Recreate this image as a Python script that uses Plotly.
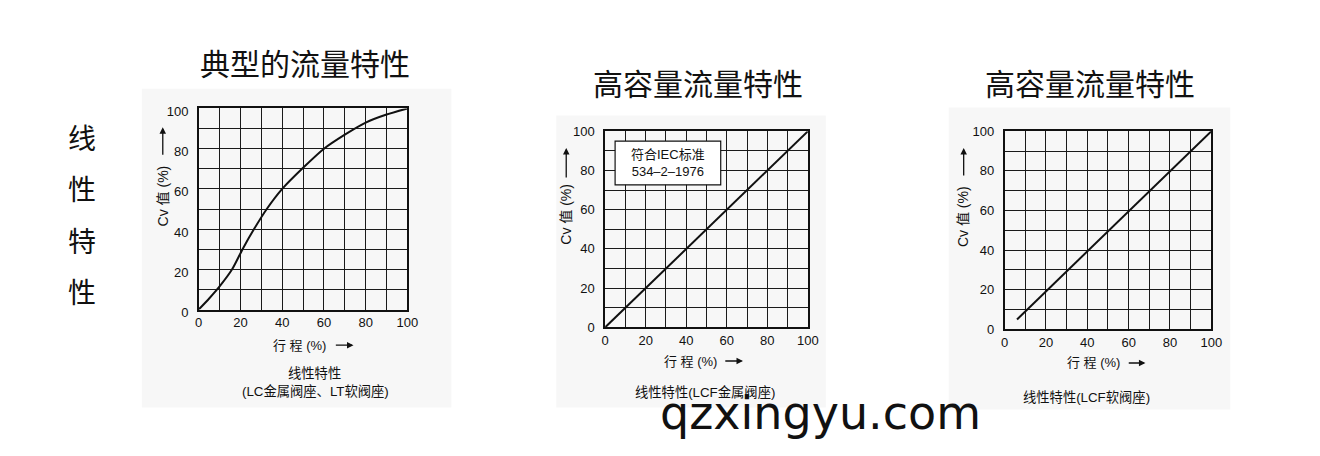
import plotly.graph_objects as go

W, H = 1320, 456
# measured mapping from figure pixels to the photographed picture (picture = k * fig + c)
KX, CX = 0.99, 2.0
KY, CY = 0.97, 5.5

# ---- data ----
travel_typical = [0, 5, 10, 16, 21, 26.5, 32.6, 40, 50, 60, 70, 80, 90, 100]
cv_typical = [0, 5.5, 11.5, 20, 30, 40, 50, 60, 70.5, 80, 87, 93, 97, 100]
travel_lcf_metal = [0, 100]
cv_lcf_metal = [0, 100]
travel_lcf_soft = [6, 100]
cv_lcf_soft = [5, 100]
tick_vals = [0, 10, 20, 30, 40, 50, 60, 70, 80, 90, 100]
tick_text = ["0", "", "20", "", "40", "", "60", "", "80", "", "100"]

titles = ["典型的流量特性", "高容量流量特性", "高容量流量特性"]
side_label = ["线", "性", "特", "性"]
y_title = "Cv 值 (%)"
x_title = "行 程 (%)"
captions = [["线性特性", "(LC金属阀座、LT软阀座)"], ["线性特性(LCF金属阀座)"], ["线性特性(LCF软阀座)"]]
iec_note = "符合IEC标准<br>534–2–1976"
watermark = "qzxingyu.com"

FONT = "Liberation Sans, Arial, Noto Sans CJK SC, sans-serif"
CJK = "Liberation Sans, Noto Sans CJK SC, sans-serif"

def px(x):
    return ((x - CX) / KX) / W

def py(y):
    return 1 - ((y - CY) / KY) / H

fig = go.Figure()

# plot boxes in picture pixels: (x0, x1, ytop, ybottom)
boxes = [(197, 406, 108, 311), (604, 807, 131, 329), (1004, 1211, 131, 331)]
label_shift = [3, 0, 0]
series = [(travel_typical, cv_typical, "spline"),
          (travel_lcf_metal, cv_lcf_metal, "linear"),
          (travel_lcf_soft, cv_lcf_soft, "linear")]

for i, ((x0, x1, yt, yb), (tx, cy, shp)) in enumerate(zip(boxes, series)):
    n = "" if i == 0 else str(i + 1)
    fig.add_trace(go.Scatter(x=tx, y=cy, mode="lines", xaxis="x" + n, yaxis="y" + n,
                             line=dict(color="#111111", width=2, shape=shp, smoothing=0.7),
                             showlegend=False, hoverinfo="skip"))
    common = dict(range=[0, 100], tickvals=tick_vals, ticktext=tick_text,
                  showgrid=True, gridcolor="#1a1a1a", gridwidth=1.3,
                  showline=True, linecolor="#111111", linewidth=1.5, mirror=True,
                  zeroline=False, ticks="", tickfont=dict(size=13, color="#111111", family=FONT),
                  fixedrange=True)
    fig.update_layout(**{
        "xaxis" + n: dict(domain=[px(x0), px(x1)], anchor="y" + n, ticklabelstandoff=0, **common),
        "yaxis" + n: dict(domain=[py(yb), py(yt)], anchor="x" + n, ticklabelstandoff=6,
                          ticklabelshift=label_shift[i], **common),
    })

# light panels behind charts
panels = [(140, 450, 88, 410), (555, 825, 115, 410), (948, 1230, 107, 412)]
for (a, b, c, d) in panels:
    fig.add_shape(type="rect", xref="paper", yref="paper", x0=px(a), x1=px(b), y0=py(d), y1=py(c),
                  fillcolor="#f7f7f7", line=dict(width=0), layer="below")

# IEC box in chart 2
fig.add_shape(type="rect", xref="x2", yref="y2", x0=4.9, x1=57, y0=72.7, y1=95,
              fillcolor="white", line=dict(color="#111111", width=1.2), layer="above")
fig.add_annotation(xref="x2", yref="y2", x=31, y=83.8, text=iec_note,
                   showarrow=False, font=dict(size=13, color="#111111", family=CJK), align="center")

def ann(x, y, text, size, angle=0, family=CJK, xanchor="center"):
    fig.add_annotation(xref="paper", yref="paper", x=px(x), y=py(y), text=text, showarrow=False,
                       textangle=angle, xanchor=xanchor, yanchor="middle",
                       font=dict(size=size, color="#111111", family=family))

def arrow(xh, yh, dx, dy):
    # head at (xh, yh) picture pixels, tail offset (dx, dy) picture pixels
    fig.add_annotation(xref="paper", yref="paper", x=px(xh), y=py(yh), text="",
                       showarrow=True, ax=dx / KX, ay=dy / KY, arrowhead=2, arrowsize=1,
                       arrowwidth=1.3, arrowcolor="#111111", standoff=0)

# titles
ann(303, 64, titles[0], 30)
ann(697, 84, titles[1], 30)
ann(1089, 84, titles[2], 30)

# side label
for k, ch in enumerate(side_label):
    ann(80, 139 + k * 52, ch, 28)

# y-axis titles + arrows
for (xc, yc, ya, yb2) in [(161, 196, 127, 155), (565, 215, 148, 178), (963, 217, 148, 176)]:
    ann(xc, yc, y_title, 14, angle=-90)
    arrow(xc, ya, 0, yb2 - ya)

# x-axis titles + arrows
for (xc, yc, xa0, xa1) in [(298, 347, 333, 352), (689, 363, 723, 742), (1093, 365, 1127, 1145)]:
    ann(xc, yc, x_title, 13)
    arrow(xa1, yc, xa0 - xa1, 0)

# captions
ann(313, 376, captions[0][0], 13.3)
ann(314, 394, captions[0][1], 13.3)
ann(704, 395, captions[1][0], 13.3)
ann(1086, 400, captions[2][0], 13.3)

# watermark
ann(820, 415, watermark, 46, family="DejaVu Sans, Liberation Sans, sans-serif")

fig.update_layout(width=W, height=H, margin=dict(l=0, r=0, t=0, b=0),
                  paper_bgcolor="white", plot_bgcolor="#f7f7f7",
                  font=dict(family=FONT, color="#111111"))

# remove the default page margin so the 1320x456 figure fills the window exactly
page_fix = ("document.documentElement.style.margin='0';document.body.style.margin='0';"
            "document.documentElement.style.overflow='hidden';document.body.style.overflow='hidden';")
fig.write_html("out.html", post_script=page_fix, config={"displayModeBar": False})
